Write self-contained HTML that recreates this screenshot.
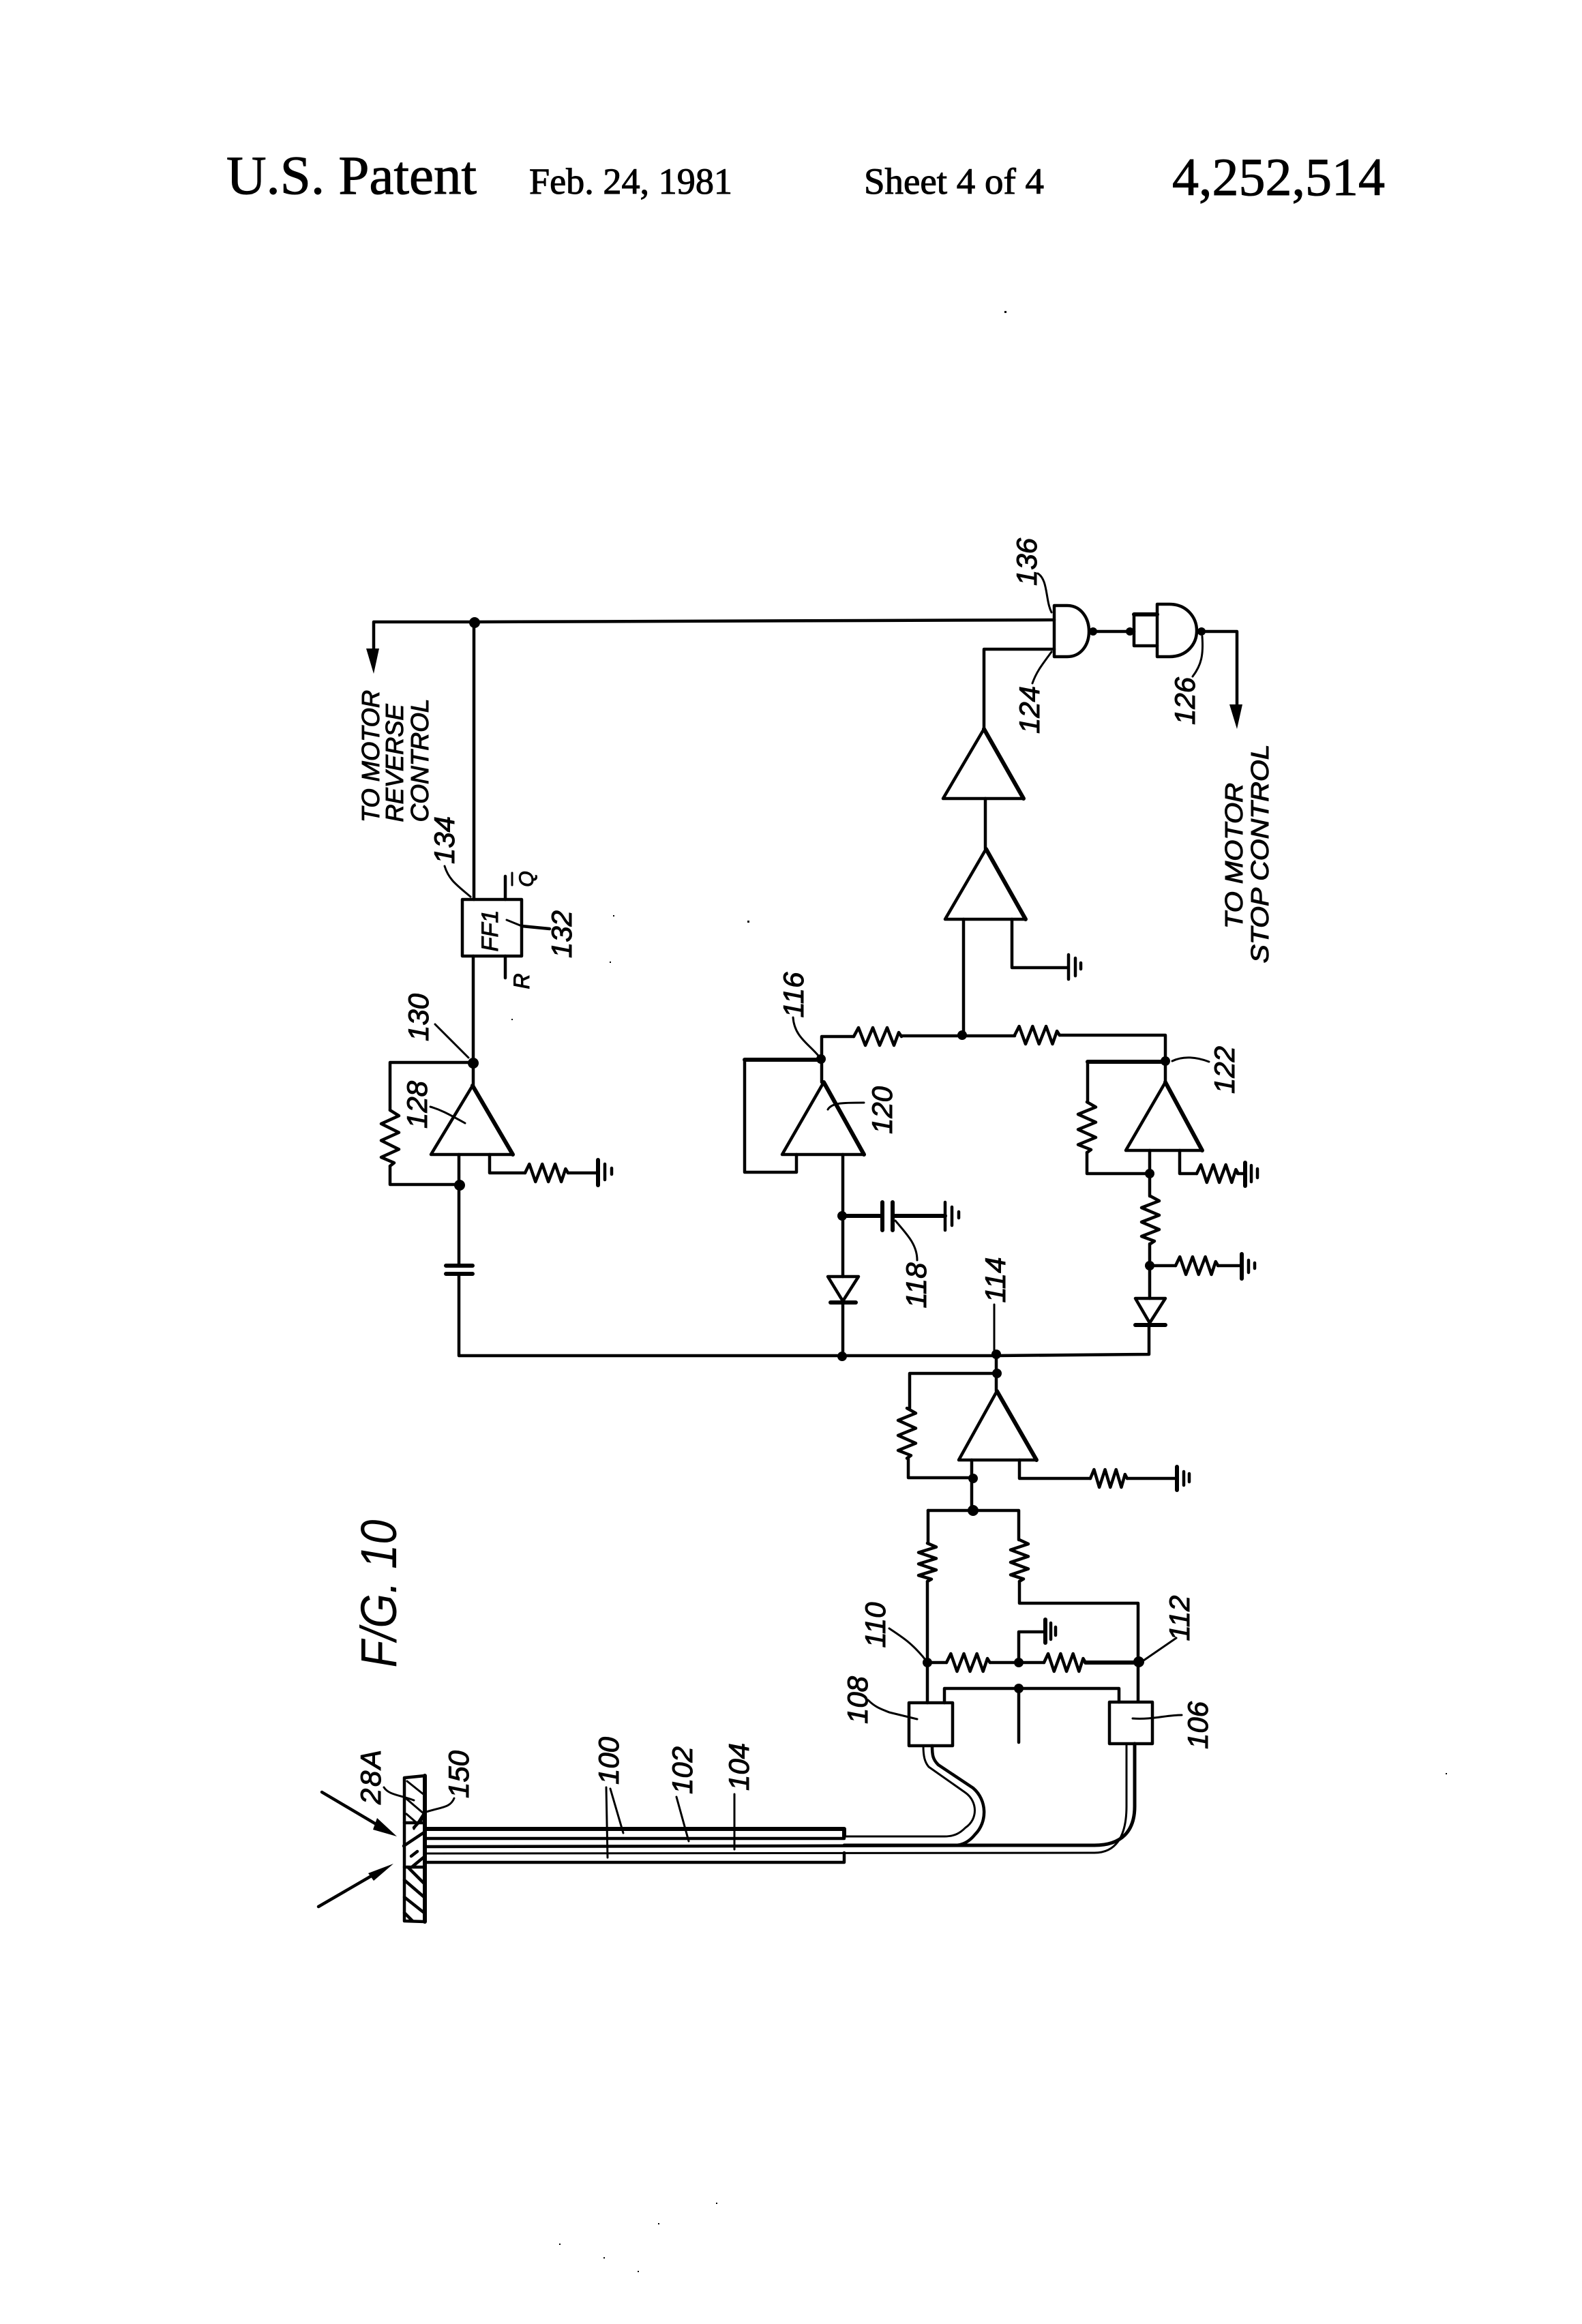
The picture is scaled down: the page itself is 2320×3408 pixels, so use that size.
<!DOCTYPE html>
<html><head><meta charset="utf-8"><title>U.S. Patent 4,252,514 Sheet 4</title>
<style>
html,body{margin:0;padding:0;background:#fff}
svg{display:block}
.w{fill:none;stroke:#000;stroke-width:4.5;stroke-linejoin:round;stroke-linecap:round}
.t{fill:none;stroke:#000;stroke-width:6;stroke-linejoin:round;stroke-linecap:round}
.l{fill:none;stroke:#000;stroke-width:3;stroke-linejoin:round;stroke-linecap:round}
.h{font-family:"Liberation Serif",serif;fill:#000;stroke:#000;stroke-width:1}
.n,.c{font-family:"Liberation Sans",sans-serif;font-style:italic;fill:#000;text-anchor:middle;stroke:#000;stroke-width:1}
.n{font-size:42px}
.c{font-size:36px}
</style></head><body>
<svg width="2320" height="3408" viewBox="0 0 2320 3408" xmlns="http://www.w3.org/2000/svg">
<rect width="2320" height="3408" fill="#fff"/>
<defs>
<polyline id="r" class="w" points="0,0 7,-13 17,13 28,-13 38,13 49,-13 59,13 66,-6 70,0" style="vector-effect:non-scaling-stroke"/>
</defs>

<!-- header -->
<text class="h" x="332" y="284" font-size="80" textLength="367" lengthAdjust="spacingAndGlyphs">U.S. Patent</text>
<text class="h" x="776" y="284" font-size="54" textLength="298" lengthAdjust="spacingAndGlyphs">Feb. 24, 1981</text>
<text class="h" x="1267" y="284" font-size="54" textLength="264" lengthAdjust="spacingAndGlyphs">Sheet 4 of 4</text>
<text class="h" x="1719" y="286" font-size="78" textLength="312" lengthAdjust="spacingAndGlyphs">4,252,514</text>

<!-- top wire and reverse arrow -->
<path class="w" d="M1546 909 L696 912 H548 V960"/>
<polygon points="537,951 556,951 548,988"/>
<path class="w" d="M695 912 V1319"/>
<rect class="w" x="678" y="1319" width="87" height="83"/>
<path class="w" d="M694 1402 V1592"/>
<path class="w" d="M741 1285 V1319 M741 1402 V1434"/>
<path class="w" d="M765 1358 L806 1362"/>
<path class="l" d="M765 1358 L743 1349"/>
<path class="l" d="M751 1280 V1298"/>

<!-- amp 128 -->
<polygon class="w" points="693,1592 632,1693 752,1693"/>
<path class="t" d="M693 1592 L752 1693"/>
<path class="w" d="M693 1558 H572 V1628"/>
<use href="#r" transform="translate(572,1628) rotate(90) scale(1.17,1)"/>
<path class="w" d="M572 1710 V1737 H674"/>
<path class="w" d="M673 1693 V1856"/>
<path class="t" d="M654 1856 H693 M654 1868 H693"/>
<path class="w" d="M673 1868 V1988 H1461 L1685 1986 V1943"/>
<path class="w" d="M718 1693 V1720 H770"/>
<use href="#r" transform="translate(770,1720) scale(.9,1)"/>
<path class="w" d="M833 1720 H877"/>
<path class="t" d="M877 1701 V1738"/>
<path class="w" d="M887 1707 V1730 M897 1713 V1722"/>

<!-- 116 / 120 branch -->
<path class="w" d="M1205 1587 V1520 H1252"/>
<use href="#r" transform="translate(1252,1520)"/>
<path class="w" d="M1322 1519 H1488"/>
<use href="#r" transform="translate(1488,1518) scale(.94,1)"/>
<path class="w" d="M1554 1518 H1709 V1587"/>
<polygon class="w" points="1208,1587 1147,1693 1267,1693"/>
<path class="t" d="M1208 1587 L1267 1693"/>
<path class="t" d="M1205 1554 H1092"/>
<path class="w" d="M1092 1554 V1719 H1168 V1693"/>
<path class="w" d="M1236 1693 V1872"/>
<path class="t" d="M1235 1783 H1292"/>
<path class="t" d="M1294 1763 V1804 M1309 1763 V1804"/>
<path class="t" d="M1309 1783 H1386"/>
<path class="w" d="M1386 1763 V1804"/>
<path class="w" d="M1396 1770 V1797 M1406 1777 V1786"/>
<polygon class="w" points="1214,1872 1259,1872 1236,1908"/>
<path class="t" d="M1218 1910 H1255"/>
<path class="w" d="M1236 1910 V1988"/>

<!-- 122 branch -->
<polygon class="w" points="1709,1587 1651,1687 1763,1687"/>
<path class="t" d="M1709 1587 L1763 1687"/>
<path class="t" d="M1709 1557 H1595"/>
<path class="w" d="M1595 1557 V1616"/>
<use href="#r" transform="translate(1594,1616) rotate(90) scale(1.06,1)"/>
<path class="w" d="M1594 1690 V1721 H1686"/>
<path class="w" d="M1686 1687 V1754"/>
<use href="#r" transform="translate(1687,1754) rotate(90)"/>
<path class="w" d="M1686 1824 V1904"/>
<path class="w" d="M1730 1687 V1721 H1755"/>
<use href="#r" transform="translate(1755,1721) scale(.87,1)"/>
<path class="w" d="M1815 1721 H1826"/>
<path class="t" d="M1826 1705 V1739"/>
<path class="w" d="M1835 1709 V1733 M1844 1714 V1727"/>
<path class="w" d="M1686 1856 H1724"/>
<use href="#r" transform="translate(1724,1856) scale(.89,1)"/>
<path class="w" d="M1786 1856 H1821"/>
<path class="t" d="M1821 1839 V1875"/>
<path class="w" d="M1831 1848 V1866 M1840 1852 V1860"/>
<polygon class="w" points="1665,1904 1709,1904 1686,1940"/>
<path class="t" d="M1665 1943 H1709"/>

<!-- main amp -->
<path class="w" d="M1461 1986 V2040"/>
<polygon class="w" points="1462,2040 1406,2141 1520,2141"/>
<path class="t" d="M1462 2040 L1520 2141"/>
<path class="w" d="M1462 2014 H1334 V2065"/>
<use href="#r" transform="translate(1330,2065) rotate(90) scale(1.05,1)"/>
<path class="w" d="M1332 2138 V2167 H1425"/>
<path class="w" d="M1425 2141 V2215"/>
<path class="w" d="M1495 2141 V2168 H1599"/>
<use href="#r" transform="translate(1599,2168) scale(.77,1)"/>
<path class="w" d="M1653 2168 H1726"/>
<path class="t" d="M1726 2151 V2185"/>
<path class="w" d="M1736 2158 V2178 M1744 2161 V2173"/>

<!-- input network -->
<path class="w" d="M1361 2215 H1494 V2258"/>
<path class="w" d="M1361 2215 V2263"/>
<use href="#r" transform="translate(1360,2263) rotate(90) scale(.8,1)"/>
<path class="w" d="M1360 2319 V2497"/>
<use href="#r" transform="translate(1495,2258) rotate(90) scale(.87,1)"/>
<path class="w" d="M1495 2319 V2351 H1669 V2495"/>
<path class="w" d="M1360 2438 H1388"/>
<use href="#r" transform="translate(1388,2438) scale(.91,1)"/>
<path class="w" d="M1452 2438 H1531"/>
<use href="#r" transform="translate(1531,2438) scale(.87,1)"/>
<path class="t" d="M1592 2438 H1670"/>
<path class="w" d="M1494 2438 V2393 H1533"/>
<path class="t" d="M1533 2375 V2409"/>
<path class="w" d="M1541 2380 V2404 M1548 2386 V2398"/>
<path class="w" d="M1385 2497 V2476 H1641 V2496"/>
<path class="w" d="M1494 2476 V2555"/>
<rect class="w" x="1333" y="2497" width="64" height="63"/>
<rect class="w" x="1627" y="2496" width="63" height="61"/>
<path class="l" d="M1273 2493 C1285 2505 1295 2507 1304 2511 L1345 2521"/>
<path class="l" d="M1733 2515 C1710 2515 1690 2522 1661 2520"/>

<!-- fibres -->
<path class="l" d="M1354 2560 C1354 2575 1356 2584 1362 2591 L1416 2629 C1434 2642 1434 2668 1416 2680 C1408 2688 1400 2693 1385 2693 H1238"/>
<path class="w" d="M1367 2560 C1367 2574 1368 2580 1376 2588 L1427 2622 C1448 2640 1448 2672 1430 2690 C1422 2700 1412 2706 1400 2706"/>
<path class="t" d="M623 2682 H1238 V2693"/>
<path class="w" d="M623 2696 H1238 M623 2708 L1605 2706"/>
<path class="t" d="M1238 2706 H1605 C1645 2706 1664 2685 1664 2649 V2557" style="stroke-width:5"/>
<path class="w" d="M623 2718 L1605 2717 C1635 2717 1652 2695 1652 2649 V2557" style="stroke-width:3"/>
<path class="w" d="M623 2731 H1238 V2717"/>

<!-- plate -->
<path class="w" d="M593 2607 L623 2604 V2818 L593 2817 Z"/>
<path class="w" d="M623 2604 V2818" style="stroke-width:6"/>
<path class="w" d="M593 2673 H622 M593 2738 H623"/>
<path class="l" d="M597 2612 L622 2632 M595 2637 L622 2660 M596 2660 L611 2673"/>
<path class="w" d="M592 2707 L622 2687 M603 2722 L612 2715 M605 2737 L622 2723 M607 2680 L621 2665"/>
<path class="w" d="M598 2738 L622 2762 M593 2757 L622 2782 M593 2782 L622 2805 M593 2805 L605 2817"/>

<!-- incident arrows -->
<path class="w" d="M472 2628 L560 2680"/>
<polygon points="582,2693 553,2666 547,2683"/>
<path class="w" d="M467 2796 L560 2742"/>
<polygon points="577,2733 540,2747 548,2758"/>

<!-- stage chain & gates -->
<polygon class="w" points="1443,1069 1383,1171 1501,1171"/>
<path class="t" d="M1443 1069 L1501 1171"/>
<path class="w" d="M1445 1171 V1245"/>
<polygon class="w" points="1446,1245 1386,1348 1504,1348"/>
<path class="t" d="M1446 1245 L1504 1348"/>
<path class="w" d="M1443 1069 V952 H1546"/>
<path class="w" d="M1413 1348 V1518"/>
<path class="w" d="M1484 1348 V1419 H1565"/>
<path class="w" d="M1567 1400 V1436"/>
<path class="w" d="M1577 1405 V1431 M1585 1412 V1421"/>
<path class="w" d="M1546 888 H1565 C1585 888 1597 906 1597 926 C1597 946 1585 963 1565 963 H1546 Z"/>
<path class="w" d="M1603 926 H1663"/>
<path class="t" d="M1663 901 H1697"/>
<path class="w" d="M1663 901 V947 H1697"/>
<path class="w" d="M1697 886 H1715 C1740 886 1755 905 1755 925 C1755 945 1740 963 1715 963 H1697 Z"/>
<path class="w" d="M1762 926 H1814 V1040"/>
<polygon points="1803,1033 1822,1033 1814,1069"/>

<!-- junction dots -->
<g fill="#000">
<circle cx="696" cy="913" r="8"/><circle cx="694" cy="1559" r="8"/><circle cx="674" cy="1738" r="8"/>
<circle cx="1204" cy="1553" r="7"/><circle cx="1411" cy="1518" r="7"/><circle cx="1709" cy="1556" r="7"/>
<circle cx="1235" cy="1783" r="7"/><circle cx="1686" cy="1721" r="7"/><circle cx="1686" cy="1856" r="7"/>
<circle cx="1235" cy="1989" r="7"/><circle cx="1461" cy="1986" r="7"/><circle cx="1462" cy="2014" r="7"/>
<circle cx="1427" cy="2168" r="7"/><circle cx="1427" cy="2215" r="8"/><circle cx="1360" cy="2438" r="7"/>
<circle cx="1494" cy="2438" r="7"/><circle cx="1670" cy="2437" r="8"/><circle cx="1494" cy="2476" r="7"/>
<circle cx="1603" cy="926" r="6"/><circle cx="1657" cy="926" r="6"/><circle cx="1762" cy="926" r="6"/>
</g>

<!-- leaders -->
<path class="l" d="M652 1270 C658 1290 670 1298 690 1315"/>
<path class="l" d="M638 1502 L687 1551"/>
<path class="l" d="M1163 1492 C1165 1520 1185 1530 1200 1548"/>
<path class="l" d="M631 1623 C645 1627 655 1632 682 1647"/>
<path class="l" d="M1522 841 C1537 850 1533 880 1542 898"/>
<path class="l" d="M1514 1002 C1520 985 1528 975 1542 956"/>
<path class="l" d="M1749 992 C1762 975 1765 960 1763 933"/>
<path class="l" d="M1313 1790 C1330 1810 1345 1825 1345 1848"/>
<path class="l" d="M1458 1913 L1458 1980"/>
<path class="l" d="M1214 1627 C1220 1617 1235 1617 1267 1617"/>
<path class="l" d="M1719 1556 C1735 1548 1755 1550 1773 1557"/>
<path class="l" d="M1304 2388 C1325 2402 1338 2410 1358 2435"/>
<path class="l" d="M1725 2402 L1677 2435"/>
<path class="l" d="M563 2621 C570 2632 585 2632 607 2640"/>
<path class="l" d="M666 2637 C660 2652 645 2650 622 2658 L607 2682"/>
<path class="l" d="M889 2621 L891 2724 M895 2623 L914 2688"/>
<path class="l" d="M992 2635 L1010 2700"/>
<path class="l" d="M1077 2631 V2712"/>

<!-- numeric labels -->
<text class="n" transform="translate(666,1232) rotate(-90)">134</text>
<text class="n" transform="translate(628,1492) rotate(-90)">130</text>
<text class="n" transform="translate(626,1620) rotate(-90)">128</text>
<text class="n" transform="translate(838,1370) rotate(-90)">132</text>
<text class="n" transform="translate(1178,1459) rotate(-90)">116</text>
<text class="n" transform="translate(1308,1628) rotate(-90)">120</text>
<text class="n" transform="translate(1810,1569) rotate(-90)">122</text>
<text class="n" transform="translate(1358,1885) rotate(-90)">118</text>
<text class="n" transform="translate(1474,1877) rotate(-90)">114</text>
<text class="n" transform="translate(1520,824) rotate(-90)">136</text>
<text class="n" transform="translate(1524,1041) rotate(-90)">124</text>
<text class="n" transform="translate(1752,1028) rotate(-90)">126</text>
<text class="n" transform="translate(1272,2493) rotate(-90)">108</text>
<text class="n" transform="translate(1298,2383) rotate(-90)">110</text>
<text class="n" transform="translate(1744,2373) rotate(-90)">112</text>
<text class="n" transform="translate(1771,2530) rotate(-90)">106</text>
<text class="n" transform="translate(558,2606) rotate(-90)" textLength="80">28A</text>
<text class="n" transform="translate(687,2602) rotate(-90)">150</text>
<text class="n" transform="translate(907,2582) rotate(-90)">100</text>
<text class="n" transform="translate(1015,2596) rotate(-90)">102</text>
<text class="n" transform="translate(1098,2591) rotate(-90)">104</text>

<!-- captions -->
<text class="c" transform="translate(556,1109) rotate(-90)" textLength="194" lengthAdjust="spacingAndGlyphs">TO MOTOR</text>
<text class="c" transform="translate(591,1119) rotate(-90)" textLength="173" lengthAdjust="spacingAndGlyphs">REVERSE</text>
<text class="c" transform="translate(628,1115) rotate(-90)" textLength="181" lengthAdjust="spacingAndGlyphs">CONTROL</text>
<text class="c" transform="translate(1822,1255) rotate(-90)" textLength="214" lengthAdjust="spacingAndGlyphs">TO MOTOR</text>
<text class="c" transform="translate(1860,1252) rotate(-90)" textLength="321" lengthAdjust="spacingAndGlyphs">STOP CONTROL</text>
<text class="c" transform="translate(730,1365) rotate(-90)" style="font-size:34px" textLength="61" lengthAdjust="spacingAndGlyphs">FF1</text>
<text class="c" transform="translate(782,1289) rotate(-90)" style="font-size:30px">Q</text>
<text class="c" transform="translate(776,1439) rotate(-90)" style="font-size:32px">R</text>
<text class="c" transform="translate(581,2337) rotate(-90)" style="font-size:74px;stroke-width:0" textLength="217" lengthAdjust="spacingAndGlyphs">F/G. 10</text>

<!-- scan specks -->
<g fill="#000">
<rect x="1473" y="456" width="3" height="3"/><rect x="1096" y="1350" width="3" height="3"/>
<rect x="899" y="1342" width="2" height="2"/><rect x="894" y="1410" width="2" height="2"/><rect x="750" y="1494" width="2" height="2"/>
<rect x="820" y="3290" width="2" height="2"/><rect x="885" y="3310" width="2" height="2"/><rect x="935" y="3330" width="2" height="2"/>
<rect x="965" y="3260" width="2" height="2"/><rect x="1050" y="3230" width="2" height="2"/><rect x="2120" y="2600" width="2" height="2"/>
</g>
</svg>
</body></html>
